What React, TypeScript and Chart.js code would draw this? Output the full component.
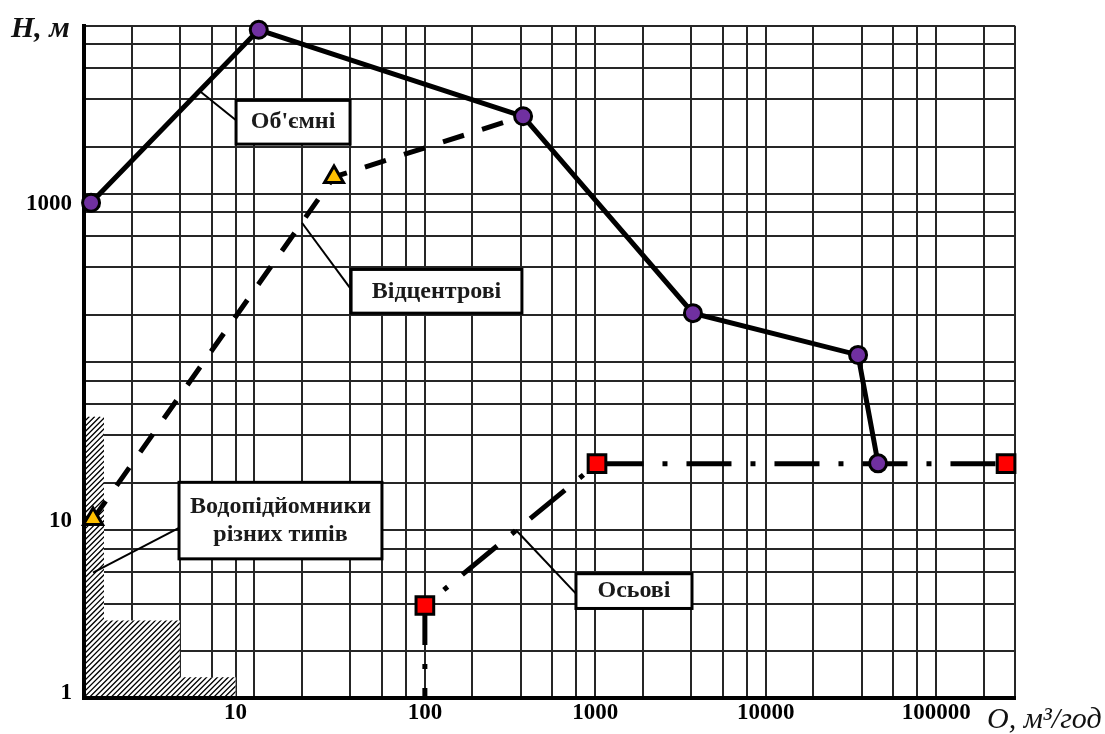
import React, { useEffect, useRef } from "react";
import { Chart, registerables } from "chart.js";

Chart.register(...registerables);

// ---- axes ----
const GRID_STEPS = [1, 1.9, 3.65, 5.6, 7.75];
const X_DECADES = [1, 10, 100, 1000, 10000, 100000];
const Y_DECADES = [1, 10, 100, 1000];
const X_MIN = 1;
const X_MAX = 290000;
const Y_MIN = 1;
const Y_MAX = 10000;

const xTickValues = [7.75, 100, 1000, 10000, 100000];
const xTickLabels = ["10", "100", "1000", "10000", "100000"];
const yTickValues = [873, 11.3, 1.07];
const yTickLabels = ["1000", "10", "1"];

// ---- series ----
const volumetricQ = [1.1, 10.6, 377, 3740, 34800, 45600];
const volumetricH = [885, 9470, 2894, 195, 110, 24.9];

const centrifugalQ = [1.13, 29.3, 377];
const centrifugalH = [11.6, 1261, 2894];

const axialQ = [100, 100, 1023, 257000];
const axialH = [1, 3.55, 24.8, 24.8];

// ---- hatched area (water lifters of various types) ----
const hatchQ = [1, 1, 1.31, 1.31, 3.65, 3.65, 7.75, 7.75];
const hatchH = [1, 47.3, 47.3, 2.89, 2.89, 1.33, 1.33, 1];

// ---- callouts (data coordinates) ----
const callouts = [
  { lines: ["Об'ємні"], box: [7.8, 36.4, 3599, 1977], from: [4.73, 4125], to: [7.8, 2741] },
  { lines: ["Відцентрові"], box: [36.9, 371, 355, 195], from: [19.0, 673], to: [36.9, 270] },
  { lines: ["Водопідйомники", "різних типів"], box: [3.61, 56.0, 19.2, 6.73], from: [3.61, 10.3], to: [1.13, 5.57] },
  { lines: ["Осьові"], box: [770, 3692, 5.49, 3.41], from: [342, 10], to: [770, 4.18] },
];

const FONT = "'Liberation Serif', 'Times New Roman', Times, serif";
const GRID_COLOR = "#262626";

function gridValues(decades: number[], max: number) {
  const out: number[] = [];
  decades.forEach((d) => GRID_STEPS.forEach((m) => {
    const v = d * m;
    if (v <= max) out.push(v);
  }));
  out.push(max);
  return out;
}

function buildTicks(grid: number[], labelVals: number[], labels: string[]) {
  const t: any[] = grid.map((v) => ({ value: v, grid: true, lbl: "" }));
  labelVals.forEach((v, i) => {
    const f = t.find((tt) => Math.abs(tt.value - v) / v < 1e-6);
    if (f) f.lbl = labels[i];
    else t.push({ value: v, grid: false, lbl: labels[i] });
  });
  t.sort((a, b) => a.value - b.value);
  return t;
}

const toPoints = (xs: number[], ys: number[]) => xs.map((x, i) => ({ x, y: ys[i] }));

const decorPlugin = {
  id: "decor",
  beforeDatasetsDraw(chart: any) {
    const { ctx, chartArea: a } = chart;
    const xs = chart.scales.x;
    const ys = chart.scales.y;
    // hatch
    ctx.save();
    ctx.beginPath();
    hatchQ.forEach((q, i) => {
      const px = xs.getPixelForValue(q);
      const py = ys.getPixelForValue(hatchH[i]);
      if (i === 0) ctx.moveTo(px, py);
      else ctx.lineTo(px, py);
    });
    ctx.closePath();
    ctx.fillStyle = "#fff";
    ctx.fill();
    ctx.clip();
    const top = ys.getPixelForValue(Math.max(...hatchH));
    const rightEdge = xs.getPixelForValue(Math.max(...hatchQ));
    const bottom = a.bottom;
    const h = bottom - top;
    ctx.strokeStyle = "#000";
    ctx.lineWidth = 1.3;
    ctx.beginPath();
    for (let sx = a.left - h; sx < rightEdge + 5; sx += 5.4) {
      ctx.moveTo(sx, bottom);
      ctx.lineTo(sx + h, top);
    }
    ctx.stroke();
    ctx.restore();
    // thick axes
    ctx.save();
    ctx.strokeStyle = "#000";
    ctx.lineWidth = 4;
    ctx.lineJoin = "miter";
    ctx.beginPath();
    ctx.moveTo(a.left, a.top);
    ctx.lineTo(a.left, a.bottom);
    ctx.lineTo(a.right, a.bottom);
    ctx.stroke();
    ctx.restore();
  },
  afterDatasetsDraw(chart: any) {
    const { ctx } = chart;
    const xs = chart.scales.x;
    const ys = chart.scales.y;
    ctx.save();
    callouts.forEach((c) => {
      const fx = xs.getPixelForValue(c.from[0]);
      const fy = ys.getPixelForValue(c.from[1]);
      const tx = xs.getPixelForValue(c.to[0]);
      const ty = ys.getPixelForValue(c.to[1]);
      ctx.strokeStyle = "#000";
      ctx.lineWidth = 2;
      ctx.beginPath();
      ctx.moveTo(fx, fy);
      ctx.lineTo(tx, ty);
      ctx.stroke();
      const x1 = xs.getPixelForValue(c.box[0]);
      const x2 = xs.getPixelForValue(c.box[1]);
      const y1 = ys.getPixelForValue(c.box[2]);
      const y2 = ys.getPixelForValue(c.box[3]);
      ctx.fillStyle = "#fff";
      ctx.fillRect(x1, y1, x2 - x1, y2 - y1);
      ctx.lineWidth = 3;
      ctx.strokeRect(x1, y1, x2 - x1, y2 - y1);
      ctx.fillStyle = "#1a1a1a";
      ctx.font = `bold 24px ${FONT}`;
      ctx.textAlign = "center";
      ctx.textBaseline = "middle";
      const cx = (x1 + x2) / 2;
      const cy = (y1 + y2) / 2;
      const n = c.lines.length;
      c.lines.forEach((line, i) => {
        ctx.fillText(line, cx, cy + (i - (n - 1) / 2) * 28);
      });
    });
    ctx.restore();
  },
  afterDraw(chart: any) {
    const { ctx } = chart;
    ctx.save();
    ctx.fillStyle = "#111";
    ctx.textBaseline = "alphabetic";
    ctx.textAlign = "left";
    ctx.font = `bold italic 30px ${FONT}`;
    ctx.fillText("H, м", 11, 37);
    ctx.font = `italic 30px ${FONT}`;
    ctx.fillText("O, м³/год", 987, 728);
    ctx.restore();
  },
};

export default function App() {
  const ref = useRef<HTMLCanvasElement | null>(null);

  useEffect(() => {
    if (!ref.current) return;
    const xGrid = gridValues(X_DECADES, X_MAX);
    const yGrid = gridValues(Y_DECADES, Y_MAX);
    const gridColor = (c: any) => (c.tick && c.tick.grid === false ? "rgba(0,0,0,0)" : GRID_COLOR);

    const chart = new Chart(ref.current, {
      type: "line",
      data: {
        datasets: [
          {
            label: "Об'ємні",
            data: toPoints(volumetricQ, volumetricH),
            borderColor: "#000",
            borderWidth: 5,
            pointStyle: "circle",
            pointRadius: 8.5,
            pointBorderWidth: 3,
            pointBackgroundColor: "#7030A0",
            pointBorderColor: "#000",
            tension: 0,
            clip: false,
          } as any,
          {
            label: "Відцентрові",
            data: toPoints(centrifugalQ, centrifugalH),
            borderColor: "#000",
            borderWidth: 5,
            borderDash: [22, 19],
            borderCapStyle: "butt",
            pointStyle: "triangle",
            pointRadius: [11, 11, 0],
            pointBorderWidth: 3,
            pointBackgroundColor: "#FFC000",
            pointBorderColor: "#000",
            tension: 0,
            clip: false,
          } as any,
          {
            label: "Осьові",
            data: toPoints(axialQ, axialH),
            borderColor: "#000",
            borderWidth: 5,
            borderDash: [45, 19, 5, 19],
            borderDashOffset: 35,
            borderCapStyle: "butt",
            pointStyle: "rect",
            pointRadius: [0, 12.5, 12.5, 12.5],
            pointBorderWidth: 3,
            pointBackgroundColor: "#FF0000",
            pointBorderColor: "#000",
            tension: 0,
            clip: false,
          } as any,
        ],
      },
      options: {
        animation: false,
        responsive: false,
        events: [],
        layout: { padding: { left: 0, top: 22, right: 90, bottom: 0 } },
        plugins: {
          legend: { display: false },
          tooltip: { enabled: false },
          title: { display: false },
        },
        scales: {
          x: {
            type: "logarithmic",
            min: X_MIN,
            max: X_MAX,
            bounds: "data",
            afterBuildTicks: (axis: any) => {
              axis.ticks = buildTicks(xGrid, xTickValues, xTickLabels);
            },
            afterFit: (axis: any) => {
              axis.height = 36;
            },
            grid: { color: gridColor, lineWidth: 2, drawTicks: false },
            border: { display: true, width: 4, color: "#000" },
            ticks: {
              autoSkip: false,
              maxRotation: 0,
              minRotation: 0,
              padding: 1,
              color: "#000",
              font: { family: FONT, size: 23, weight: "bold" },
              callback: (_v: any, i: number, ticks: any[]) => ticks[i].lbl,
            },
          } as any,
          y: {
            type: "logarithmic",
            min: Y_MIN,
            max: Y_MAX,
            bounds: "data",
            afterBuildTicks: (axis: any) => {
              axis.ticks = buildTicks(yGrid, yTickValues, yTickLabels);
            },
            afterFit: (axis: any) => {
              axis.width = 84;
            },
            grid: { color: gridColor, lineWidth: 2, drawTicks: false },
            border: { display: true, width: 4, color: "#000" },
            ticks: {
              autoSkip: false,
              padding: 12,
              color: "#000",
              font: { family: FONT, size: 23, weight: "bold" },
              callback: (_v: any, i: number, ticks: any[]) => ticks[i].lbl,
            },
          } as any,
        },
      },
      plugins: [decorPlugin as any],
    });
    return () => chart.destroy();
  }, []);

  return (
    <div style={{ position: "fixed", left: 0, top: 0, width: 1105, height: 734, background: "#fff" }}>
      <canvas ref={ref} width={1105} height={734} style={{ display: "block" }} />
    </div>
  );
}
